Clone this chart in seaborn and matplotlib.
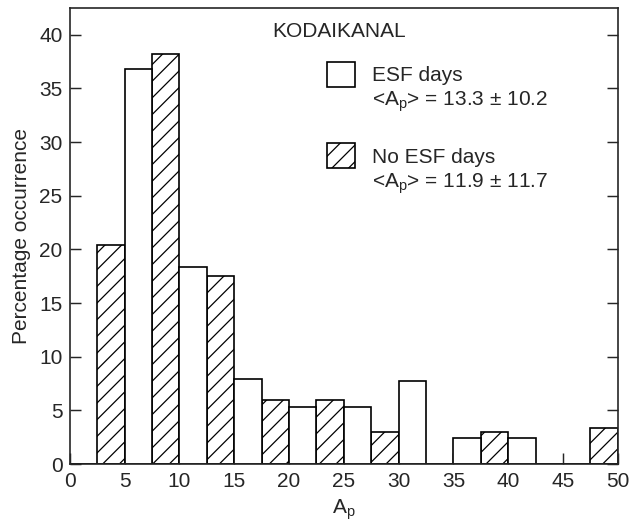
import numpy as np
import pandas as pd
import matplotlib
matplotlib.use('Agg')
import matplotlib.pyplot as plt
import seaborn as sns
from matplotlib.patches import Rectangle

# ------------------------------------------------------------
# data (percentage occurrence per Ap bin)
# ------------------------------------------------------------
bin_centres = [5, 10, 15, 20, 25, 30, 35, 40, 45, 50]
esf_days    = [36.8, 18.4, 7.95, 5.3, 5.3, 7.7, 2.4, 2.4, 0.0, 0.0]
no_esf_days = [20.4, 38.2, 17.5, 6.0, 6.0, 2.95, 0.0, 3.0, 0.0, 3.4]
x_ticks = [0, 5, 10, 15, 20, 25, 30, 35, 40, 45, 50]
y_ticks = [0, 5, 10, 15, 20, 25, 30, 35, 40]

sns.set_style('ticks')
plt.rcParams['font.family'] = ['Liberation Sans', 'DejaVu Sans']
plt.rcParams['mathtext.fontset'] = 'custom'
plt.rcParams['mathtext.rm'] = 'Liberation Sans'
plt.rcParams['mathtext.it'] = 'Liberation Sans'
plt.rcParams['hatch.linewidth'] = 0.6

FS = 10

# No ESF days sit in the left half of each 5-unit bin, ESF days in the right half
df = pd.DataFrame({'centre': bin_centres, 'esf': esf_days, 'noesf': no_esf_days})
df['x_no'] = df['centre'] - 1.25
df['x_esf'] = df['centre'] + 1.25
edges = list(np.arange(0, 52.5 + 0.01, 2.5))

fig = plt.figure(figsize=(635 / 150, 525 / 150), dpi=150)
ax = fig.add_axes([0.110, 0.116, 0.863, 0.869])

sns.histplot(data=df, x='x_no', weights='noesf', bins=edges, ax=ax,
             color='white', edgecolor='black', linewidth=0.8, hatch='///',
             alpha=1)
sns.histplot(data=df, x='x_esf', weights='esf', bins=edges, ax=ax,
             color='white', edgecolor='black', linewidth=0.8, alpha=1)

ax.set_xlim(0, 50)
ax.set_ylim(0, 42.5)
ax.set_xticks(x_ticks)
ax.set_yticks(y_ticks)
ax.tick_params(axis='both', direction='in', length=5.5, width=0.7, labelsize=FS)
ax.tick_params(axis='y', right=True)
ax.tick_params(axis='x', pad=4)
for s in ax.spines.values():
    s.set_visible(True)
    s.set_linewidth(0.8)

ax.set_xlabel(r'A$_\mathrm{p}$', fontsize=FS, labelpad=3)
ax.set_ylabel('Percentage occurrence', fontsize=FS, labelpad=4)

# station name and hand-drawn style legend
ax.text(18.5, 40.3, 'KODAIKANAL', fontsize=FS, va='center', ha='left')
ax.add_patch(Rectangle((23.45, 35.1), 2.55, 2.35,
                       facecolor='white', edgecolor='black', linewidth=0.8))
ax.add_patch(Rectangle((23.45, 27.6), 2.55, 2.35,
                       facecolor='white', edgecolor='black', linewidth=0.8,
                       hatch='///'))
ax.text(27.55, 36.2, 'ESF days', fontsize=FS, va='center')
ax.text(27.55, 33.75, r'<A$_\mathrm{p}$> = 13.3 ± 10.2', fontsize=FS, va='center')
ax.text(27.55, 28.6, 'No ESF days', fontsize=FS, va='center')
ax.text(27.55, 26.1, r'<A$_\mathrm{p}$> = 11.9 ± 11.7', fontsize=FS, va='center')

fig.savefig('out.png', dpi=150)
